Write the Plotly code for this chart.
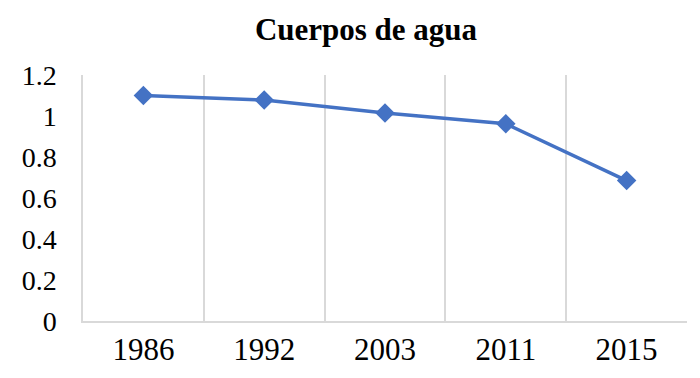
import plotly.graph_objects as go

years = ["1986", "1992", "2003", "2011", "2015"]
values = [1.10, 1.078, 1.015, 0.962, 0.685]
y_ticks = [0, 0.2, 0.4, 0.6, 0.8, 1.0, 1.2]
y_labels = ["0", "0.2", "0.4", "0.6", "0.8", "1", "1.2"]

serif = "Liberation Serif, Times New Roman, serif"

W, H = 692, 370  # page body has an 8px margin

fig = go.Figure(go.Scatter(
    x=years, y=values, mode="lines+markers",
    line=dict(color="#4472C4", width=3.5),
    marker=dict(symbol="diamond", size=15, color="#4472C4"),
))

fig.update_layout(
    width=W, height=H,
    margin=dict(l=75, r=13, t=67, b=57),
    paper_bgcolor="white", plot_bgcolor="white",
    showlegend=False,
    title=dict(text="<b>Cuerpos de agua</b>", x=358 / W, xanchor="center",
               y=1 - 21 / H, yanchor="middle", xref="container", yref="container",
               font=dict(family=serif, size=31, color="black")),
)
fig.update_xaxes(
    type="category", range=[-0.5, 4.5], tickson="boundaries",
    showgrid=True, gridcolor="#d9d9d9", gridwidth=1.5,
    showline=True, linecolor="#d9d9d9", linewidth=1.5,
    ticks="outside", ticklen=36, tickcolor="rgba(0,0,0,0)",
    tickfont=dict(family=serif, size=31, color="black"),
    zeroline=False, automargin=False,
)
fig.update_yaxes(
    range=[0, 1.2], tickvals=y_ticks, ticktext=y_labels,
    showgrid=False, zeroline=False,
    showline=True, linecolor="#d9d9d9", linewidth=1.5,
    ticks="outside", ticklen=19, tickcolor="rgba(0,0,0,0)",
    tickfont=dict(family=serif, size=28, color="black"),
    automargin=False,
)

fig.write_html("out.html")
